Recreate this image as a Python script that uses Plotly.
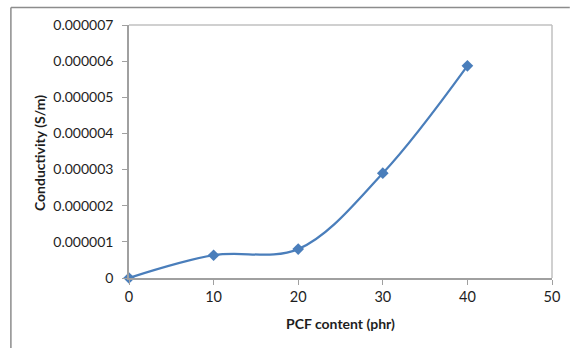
import plotly.graph_objects as go

pcf_content = [0, 10, 20, 30, 40]
conductivity = [0.0, 6.3e-7, 8.0e-7, 2.9e-6, 5.87e-6]

y_tickvals = [0, 1e-6, 2e-6, 3e-6, 4e-6, 5e-6, 6e-6, 7e-6]
y_ticktext = ["0", "0.000001", "0.000002", "0.000003", "0.000004",
              "0.000005", "0.000006", "0.000007"]
x_tickvals = [0, 10, 20, 30, 40, 50]

x_title = "PCF content (phr)"
y_title = "Conductivity (S/m)"

FONT = "Lato, Carlito, 'Liberation Sans', sans-serif"
BLUE = "#4A7EBB"
TXT = "#1E1E1E"

fig = go.Figure()
fig.add_trace(go.Scatter(
    x=pcf_content, y=conductivity, mode="lines+markers",
    line=dict(color=BLUE, width=2.25, shape="spline", smoothing=1.0),
    marker=dict(symbol="diamond", size=9, color=BLUE),
    showlegend=False, cliponaxis=False,
))

W, H = 572, 348
L, R, T, B = 129, 15, 25, 70
pw, ph = W - L - R, H - T - B

def px2paper_x(px):
    return (px - L) / pw

def px2paper_y(py):
    return (H - B - py) / ph

fig.update_layout(
    width=W, height=H,
    margin=dict(l=L, r=R, t=T, b=B),
    paper_bgcolor="white", plot_bgcolor="white",
    font=dict(family=FONT, size=14, color=TXT),
    xaxis=dict(
        range=[0, 50], tickvals=x_tickvals, showgrid=False, zeroline=False,
        showline=True, linecolor="#A0A0A0", linewidth=1.5,
        ticks="outside", ticklen=5, tickcolor="#A0A0A0",
        tickfont=dict(size=14.5, family=FONT, color=TXT),
    ),
    yaxis=dict(
        range=[0, 7e-6], tickvals=y_tickvals, ticktext=y_ticktext,
        showgrid=False, zeroline=False,
        showline=True, linecolor="#A0A0A0", linewidth=1.5,
        ticks="outside", ticklen=5, tickcolor="#A0A0A0",
        ticklabelstandoff=6,
        tickfont=dict(size=14, family=FONT, color=TXT),
    ),
    annotations=[
        dict(text="<b>" + x_title + "</b>", xref="paper", yref="paper",
             x=px2paper_x(343), y=px2paper_y(323), xanchor="center", yanchor="middle",
             showarrow=False, font=dict(size=14, family=FONT, color=TXT)),
        dict(text="<b>" + y_title + "</b>", xref="paper", yref="paper",
             x=px2paper_x(38), y=px2paper_y(153), xanchor="center", yanchor="middle",
             textangle=-90, showarrow=False, font=dict(size=14, family=FONT, color=TXT)),
    ],
    shapes=[
        dict(type="line", xref="paper", yref="paper", x0=0, x1=1, y0=1, y1=1,
             line=dict(color="#C0C0C0", width=1.5), layer="below"),
        dict(type="line", xref="paper", yref="paper", x0=1, x1=1, y0=0, y1=1,
             line=dict(color="#C0C0C0", width=1.5), layer="below"),
        dict(type="line", xref="paper", yref="paper",
             x0=px2paper_x(9.5), x1=px2paper_x(575), y0=px2paper_y(7.5), y1=px2paper_y(7.5),
             line=dict(color="#8C8C8C", width=1.5)),
        dict(type="line", xref="paper", yref="paper",
             x0=px2paper_x(9.5), x1=px2paper_x(9.5), y0=px2paper_y(7.5), y1=px2paper_y(352),
             line=dict(color="#8C8C8C", width=1.5)),
    ],
)

fig.write_html("out.html")
